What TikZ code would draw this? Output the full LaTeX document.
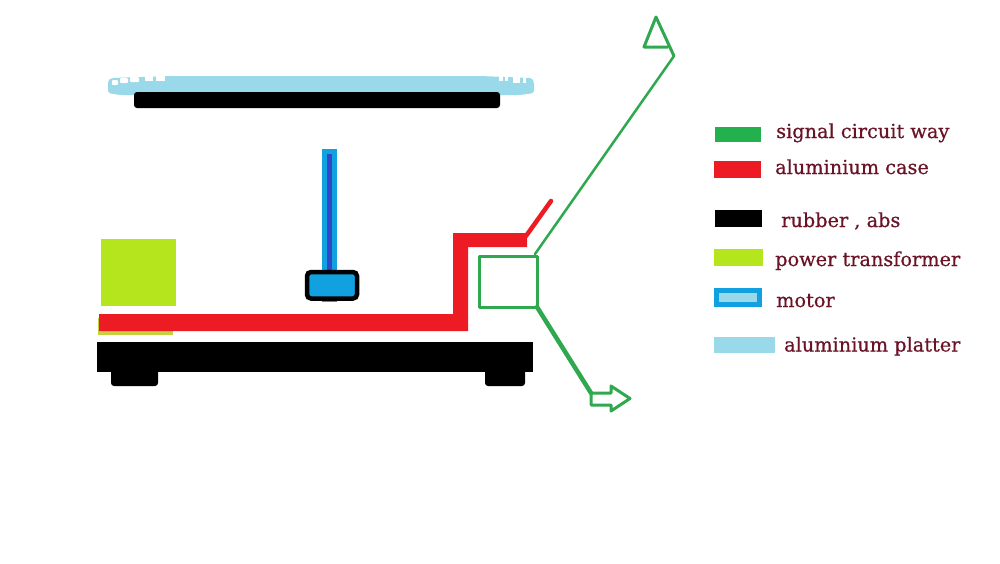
\documentclass[tikz,border=0pt]{standalone}
\usepackage{fontspec}
\setmainfont{DejaVu Serif}
\newfontface\legfont{DejaVu Serif}[FakeBold=0.6]
\definecolor{sigG}{HTML}{2FA84F}
\definecolor{legG}{HTML}{22B14C}
\definecolor{caseR}{HTML}{ED1C24}
\definecolor{trafo}{HTML}{B5E61D}
\definecolor{motorB}{HTML}{11A0E0}
\definecolor{shaftB}{HTML}{3048C8}
\definecolor{platB}{HTML}{99D9EA}
\definecolor{txt}{HTML}{6A1226}
\definecolor{strip}{HTML}{C8D040}
\tikzset{
  legtext/.style={anchor=base west,inner sep=0pt,text=txt,font=\legfont\fontsize{19.3}{22}\selectfont},
  sigline/.style={draw=sigG,line width=3pt,line join=round,line cap=round}
}
\begin{document}
\begin{tikzpicture}[x=1pt,y=-1pt]
\useasboundingbox (0,0) rectangle (1000,563);
% platter
\fill[platB,rounded corners=2pt] (108,93) -- (108,80) -- (112,78) -- (170,76) -- (480,76) -- (532,78) -- (534,82) -- (534,93) -- (520,95) -- (120,95) -- cycle;
\fill[white,rounded corners=1pt] (112,80) rectangle (118,85);
\fill[white,rounded corners=1pt] (120,78) rectangle (128,83);
\fill[white,rounded corners=1pt] (130,77) rectangle (139,82);
\fill[white] (145,75) rectangle (153,81);
\fill[white] (156,75) rectangle (165,81);
\fill[white] (499,75) rectangle (503,81);
\fill[white] (505,75) rectangle (508,81);
\fill[white] (513,76) rectangle (520,83);
\fill[white] (523,77) rectangle (526,83);
\fill[black,rounded corners=3pt] (134,92) rectangle (500,108);
% shaft
\fill[motorB] (322,149) rectangle (337,302);
\fill[shaftB] (327,154) rectangle (332,272);
% motor
\draw[black,line width=4.5pt,fill=motorB,rounded corners=4pt] (307,272) rectangle (357,298.5);
% transformer
\fill[trafo] (101,239) rectangle (175.5,306);
\fill[strip] (98,318) rectangle (173,334.5);
% case
\fill[caseR] (99,314) -- (453,314) -- (453,233) -- (527,233) -- (527,247) -- (468,247) -- (468,331) -- (99,331) -- cycle;
\draw[caseR,line width=4.5pt,line cap=round] (526,236) -- (551,201);
% base
\fill[black] (97,342) rectangle (533,372);
\fill[black,rounded corners=3pt] (111,368) rectangle (158,386);
\fill[black,rounded corners=3pt] (485,368) rectangle (525,386);
% signal
\draw[sigline] (479,256) rectangle (537,307);
\draw[draw=sigG,line width=2.5pt,line cap=round] (535,254) -- (674,56);
\draw[draw=sigG,line width=3pt,line join=round] (674,56) -- (656,17) -- (644,47) -- (668,47);
\draw[draw=sigG,line width=4.5pt,line cap=round] (537,307) -- (591,393);
\draw[sigline] (591,393) -- (611,393) -- (611,386) -- (630,398.5) -- (611,411) -- (611,405) -- (591,405) -- cycle;
% legend
\fill[legG] (715,127) rectangle (761,142);
\fill[caseR] (714,161) rectangle (761,178);
\fill[black] (715,210) rectangle (762,227);
\fill[trafo] (714,249) rectangle (763,266);
\fill[motorB] (714,288) rectangle (762,307);
\fill[platB] (719,293) rectangle (757,302);
\fill[platB] (714,337) rectangle (775,353);
\node[legtext] (l1) at (776,138) {signal circuit way};
\node[legtext] (l2) at (775,174) {aluminium case};
\node[legtext] (l3) at (781,227) {rubber , abs};
\node[legtext] (l4) at (775,266) {power transformer};
\node[legtext] (l5) at (776,307) {motor};
\node[legtext] (l6) at (784,351.5) {aluminium platter};
\end{tikzpicture}
\end{document}
